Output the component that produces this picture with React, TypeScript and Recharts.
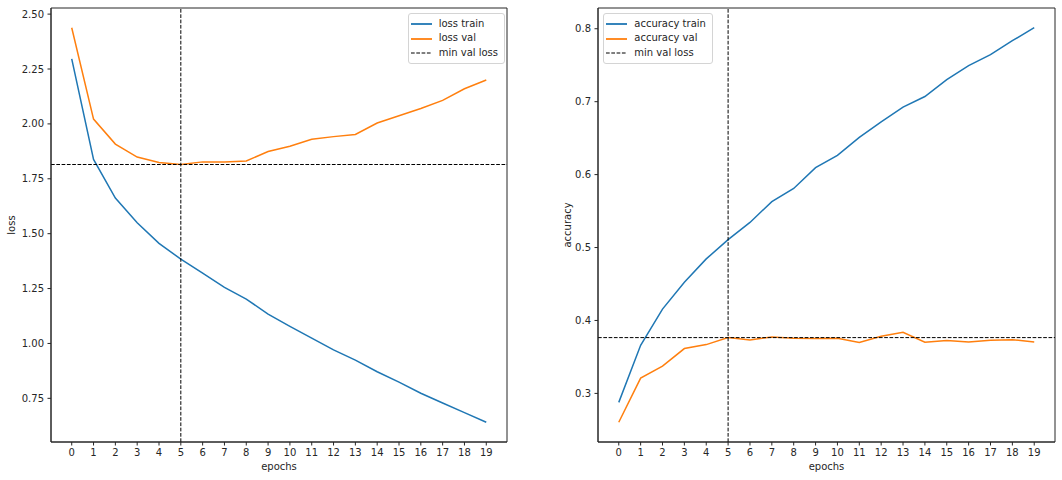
import React from "react";
import {
  LineChart,
  Line,
  XAxis,
  YAxis,
  ReferenceLine,
  ReferenceArea,
  Legend,
  Label,
} from "recharts";

const epochs = [0, 1, 2, 3, 4, 5, 6, 7, 8, 9, 10, 11, 12, 13, 14, 15, 16, 17, 18, 19];

const lossTrain = [
  2.296, 1.838, 1.662, 1.55, 1.456, 1.384, 1.32, 1.255, 1.202, 1.134,
  1.078, 1.024, 0.971, 0.924, 0.871, 0.824, 0.773, 0.729, 0.685, 0.641,
];
const lossVal = [
  2.438, 2.022, 1.908, 1.849, 1.824, 1.815, 1.827, 1.827, 1.831, 1.874,
  1.898, 1.93, 1.942, 1.952, 2.004, 2.037, 2.07, 2.107, 2.16, 2.2,
];
const accTrain = [
  0.2877, 0.366, 0.4156, 0.4525, 0.4844, 0.5108, 0.5344, 0.563, 0.581, 0.6096,
  0.6265, 0.651, 0.6724, 0.6925, 0.7071, 0.7303, 0.7494, 0.7645, 0.7836, 0.8014,
];
const accVal = [
  0.2604, 0.3209, 0.3373, 0.3615, 0.3669, 0.3765, 0.3732, 0.3773, 0.3755, 0.3751,
  0.3755, 0.3697, 0.3783, 0.3837, 0.3701, 0.3724, 0.3705, 0.3728, 0.3737, 0.3705,
];

const lossTicks = [0.75, 1.0, 1.25, 1.5, 1.75, 2.0, 2.25, 2.5];
const accTicks = [0.3, 0.4, 0.5, 0.6, 0.7, 0.8];

const BLUE = "#1f77b4";
const ORANGE = "#ff7f0e";
const INK = "#262626";
const FONT = "'DejaVu Sans', sans-serif";

// best epoch = lowest validation loss
const bestEpoch = lossVal.indexOf(Math.min(...lossVal));
const minValLoss = lossVal[bestEpoch];
const accAtBest = accVal[bestEpoch];

// matplotlib-like 5% auto margins
const pad = (vals: number[]): [number, number] => {
  const lo = Math.min(...vals);
  const hi = Math.max(...vals);
  const m = (hi - lo) * 0.05;
  return [lo - m, hi + m];
};
const xDomain: [number, number] = pad(epochs);

const lossData = epochs.map((e, i) => ({ epoch: e, train: lossTrain[i], val: lossVal[i] }));
const accData = epochs.map((e, i) => ({ epoch: e, train: accTrain[i], val: accVal[i] }));

const yTitle = (text: string, dx: number) => (props: any) => {
  const vb = props.viewBox;
  const x = vb.x + dx;
  const y = vb.y + vb.height / 2;
  return (
    <text
      x={x}
      y={y}
      transform={`rotate(-90 ${x} ${y})`}
      textAnchor="middle"
      fill={INK}
      fontSize={10}
      fontFamily={FONT}
    >
      {text}
    </text>
  );
};

type Entry = { label: string; color: string; dashed?: boolean };

const LegendBox = ({ entries }: { entries: Entry[] }) => (
  <div
    style={{
      border: "1px solid #d4d4d4",
      borderRadius: 3,
      background: "rgba(255,255,255,0.8)",
      padding: "3px 6px 3px 2px",
      fontFamily: FONT,
      fontSize: 10,
      color: INK,
      lineHeight: "14.6px",
    }}
  >
    {entries.map((e) => (
      <div key={e.label} style={{ display: "flex", alignItems: "center", height: 14.6 }}>
        <svg width={21} height={4} style={{ marginRight: 7 }}>
          <line
            x1={0}
            y1={2}
            x2={21}
            y2={2}
            stroke={e.color}
            strokeWidth={e.dashed ? 1 : 1.8}
            strokeDasharray={e.dashed ? "3.7 1.6" : undefined}
          />
        </svg>
        <span style={{ whiteSpace: "nowrap" }}>{e.label}</span>
      </div>
    ))}
  </div>
);

type PanelProps = {
  data: { epoch: number; train: number; val: number }[];
  ticks: number[];
  digits: number;
  domain: [number, number];
  yLabel: string;
  yLabelDx: number;
  yAxisWidth: number;
  width: number;
  rightMargin: number;
  refY: number;
  entries: Entry[];
  legendLeft: number;
  names: [string, string];
};

const Panel = (p: PanelProps) => (
  <LineChart
    width={p.width}
    height={480}
    data={p.data}
    margin={{ top: 8, right: p.rightMargin, left: 0, bottom: 0 }}
  >
    <XAxis
      dataKey="epoch"
      type="number"
      domain={xDomain}
      ticks={epochs}
      interval={0}
      height={38}
      stroke={INK}
      tickSize={3.5}
      tickMargin={3.5}
      tick={{ fill: INK, fontSize: 10, fontFamily: FONT }}
    >
      <Label
        value="epochs"
        position="insideBottom"
        offset={10.5}
        fill={INK}
        fontSize={10}
        fontFamily={FONT}
      />
    </XAxis>
    <YAxis
      type="number"
      domain={p.domain}
      ticks={p.ticks}
      width={p.yAxisWidth}
      stroke={INK}
      tickSize={3.5}
      tickMargin={3.5}
      tickFormatter={(v: number) => v.toFixed(p.digits)}
      tick={{ fill: INK, fontSize: 10, fontFamily: FONT }}
      label={{ content: yTitle(p.yLabel, p.yLabelDx) }}
    />
    {/* axes frame (top/right spines) */}
    <ReferenceArea
      x1={xDomain[0]}
      x2={xDomain[1]}
      y1={p.domain[0]}
      y2={p.domain[1]}
      fill="none"
      fillOpacity={0}
      stroke={INK}
      strokeWidth={1}
      ifOverflow="visible"
    />
    <Line
      type="linear"
      dataKey="train"
      name={p.names[0]}
      stroke={BLUE}
      strokeWidth={1.5}
      dot={false}
      isAnimationActive={false}
    />
    <Line
      type="linear"
      dataKey="val"
      name={p.names[1]}
      stroke={ORANGE}
      strokeWidth={1.5}
      dot={false}
      isAnimationActive={false}
    />
    <ReferenceLine x={bestEpoch} stroke="#000" strokeWidth={1} strokeDasharray="3.7 1.6" />
    <ReferenceLine y={p.refY} stroke="#000" strokeWidth={1} strokeDasharray="3.7 1.6" />
    <Legend
      layout="vertical"
      align="center"
      verticalAlign="middle"
      wrapperStyle={{ left: p.legendLeft, top: 12.7, width: "auto" }}
      content={() => <LegendBox entries={p.entries} />}
    />
  </LineChart>
);

export default function App() {
  return (
    <div
      style={{
        position: "absolute",
        left: 0,
        top: 0,
        width: 1062,
        height: 480,
        background: "#fff",
        fontFamily: FONT,
      }}
    >
      <div style={{ position: "absolute", left: 0, top: 0 }}>
        <Panel
          data={lossData}
          ticks={lossTicks}
          digits={2}
          domain={pad([...lossTrain, ...lossVal])}
          yLabel="loss"
          yLabelDx={15}
          yAxisWidth={51}
          width={520}
          rightMargin={13}
          refY={minValLoss}
          legendLeft={407.7}
          names={["loss train", "loss val"]}
          entries={[
            { label: "loss train", color: BLUE },
            { label: "loss val", color: ORANGE },
            { label: "min val loss", color: "#000", dashed: true },
          ]}
        />
      </div>
      <div style={{ position: "absolute", left: 540, top: 0 }}>
        <Panel
          data={accData}
          ticks={accTicks}
          digits={1}
          domain={pad([...accTrain, ...accVal])}
          yLabel="accuracy"
          yLabelDx={30.5}
          yAxisWidth={58}
          width={522}
          rightMargin={7}
          refY={accAtBest}
          legendLeft={63.3}
          names={["accuracy train", "accuracy val"]}
          entries={[
            { label: "accuracy train", color: BLUE },
            { label: "accuracy val", color: ORANGE },
            { label: "min val loss", color: "#000", dashed: true },
          ]}
        />
      </div>
    </div>
  );
}
